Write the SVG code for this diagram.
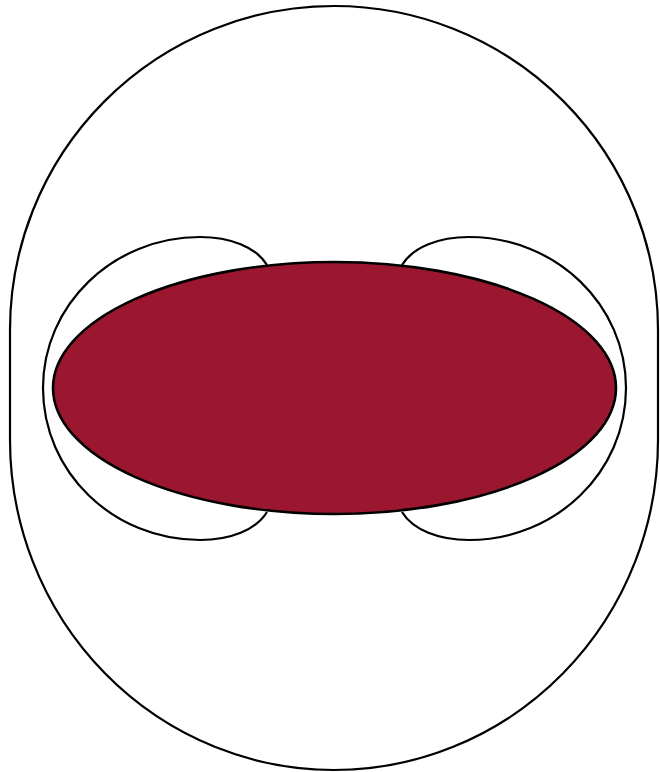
<svg xmlns="http://www.w3.org/2000/svg" width="660" height="772" viewBox="0 0 660 772">
<style>
.line{fill:none;stroke:#000;stroke-width:2.2;stroke-linejoin:round}
.core{fill:#9b172f;stroke:#000;stroke-width:2.6}
</style>
<rect width="660" height="772" fill="#fff"/>
<g id="outer">
<path class="line" d="M10,330 A324,324 0 0 1 658,330 L658,440 A324,330 0 0 1 10,440 Z"/>
</g>
<g id="lobe-left">
<path class="line" d="M267,265 C256,247 230,237 200,237 C113,237 43,305 43,388 C43,472 113,540 200,540 C230,540 256,530 267,512"/>
</g>
<g id="lobe-right">
<path class="line" d="M402,265 C413,247 439,237 469,237 C556,237 626,305 626,388 C626,472 556,540 469,540 C439,540 413,530 402,512"/>
</g>
<g id="core">
<ellipse class="core" cx="334.5" cy="388" rx="281.5" ry="126"/>
</g>
</svg>
